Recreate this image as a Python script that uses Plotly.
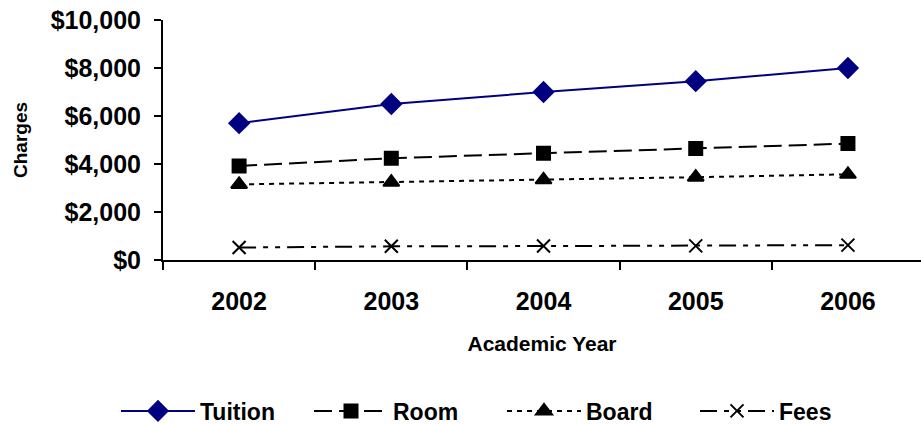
import plotly.graph_objects as go

years = ["2002", "2003", "2004", "2005", "2006"]
tuition = [5700, 6500, 7000, 7450, 8000]
room = [3920, 4240, 4450, 4650, 4850]
board = [3150, 3240, 3340, 3450, 3570]
fees = [520, 570, 580, 590, 620]

y_ticks = [0, 2000, 4000, 6000, 8000, 10000]
y_tick_text = ["$0", "$2,000", "$4,000", "$6,000", "$8,000", "$10,000"]

FONT = "Liberation Sans, Arial, sans-serif"

series = [
    ("Tuition", tuition, "#000080", "solid", "diamond", 15),
    ("Room", room, "#000000", "18px,7px", "square", 13),
    ("Board", board, "#000000", "5px,5px", "triangle-up", 14),
    ("Fees", fees, "#000000", "17px,7px,5px,7px,5px,7px", "x-thin-open", 13),
]

fig = go.Figure()
for name, vals, color, dash, symbol, size in series:
    fig.add_trace(go.Scatter(
        x=years, y=vals, name=name, mode="lines+markers",
        line=dict(color=color, width=2, dash=dash),
        marker=dict(symbol=symbol, size=size, color=color,
                    line=dict(color=color, width=2)),
    ))

fig.update_layout(
    width=921, height=424,
    margin=dict(l=163, r=0, t=20, b=164, autoexpand=False),
    paper_bgcolor="white", plot_bgcolor="white",
    font=dict(family=FONT, color="black"),
    showlegend=True,
    legend=dict(
        orientation="h", x=-0.062, xanchor="left", y=-0.629, yanchor="middle",
        font=dict(family=FONT, size=23, color="black", weight="bold"),
        itemwidth=74, entrywidth=104, entrywidthmode="pixels",
        bgcolor="rgba(0,0,0,0)",
    ),
)

fig.update_xaxes(
    type="category", range=[-0.5, 4.48],
    showline=True, linecolor="black", linewidth=2,
    ticks="outside", tickson="boundaries", ticklen=8, tickwidth=2, tickcolor="black",
    tickfont=dict(family=FONT, size=25, color="black", weight="bold"),
    ticklabelstandoff=18,
    showgrid=False, zeroline=False,
    title=dict(text="Academic Year", standoff=22,
               font=dict(family=FONT, size=21, color="black", weight="bold")),
)

fig.update_yaxes(
    range=[0, 10000],
    tickvals=y_ticks, ticktext=y_tick_text,
    showline=True, linecolor="black", linewidth=2,
    ticks="outside", ticklen=7, tickwidth=2, tickcolor="black",
    tickfont=dict(family=FONT, size=25, color="black", weight="bold"),
    ticklabelstandoff=8,
    showgrid=False, zeroline=False,
    title=dict(text="Charges", standoff=18,
               font=dict(family=FONT, size=19, color="black", weight="bold")),
)

fig.write_html("out.html")
